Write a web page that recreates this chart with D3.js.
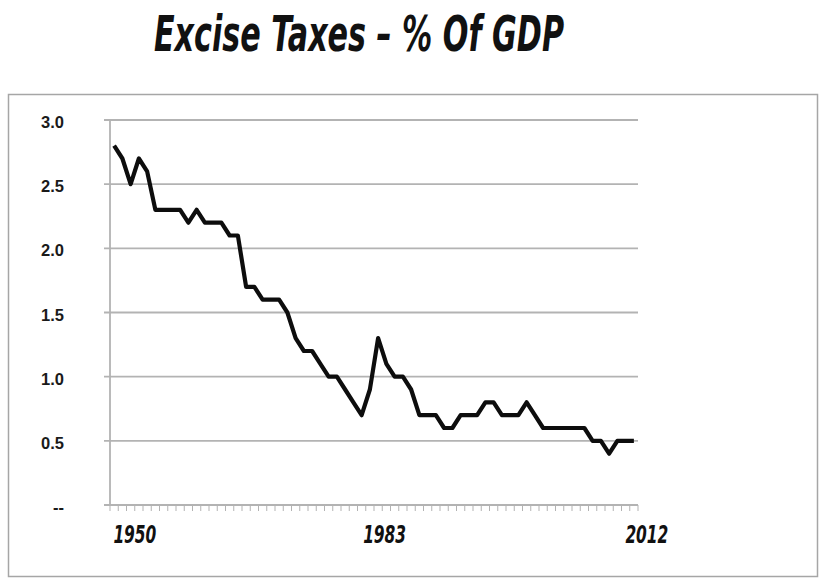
<!DOCTYPE html>
<html>
<head>
<meta charset="utf-8">
<script src="https://cdn.jsdelivr.net/npm/d3@7"></script>
<style>
  html, body { margin: 0; padding: 0; background: #fff; }
  svg { display: block; }
</style>
</head>
<body>
<svg id="chart" width="823" height="583"></svg>
<script>
// ---- data ----
const years = [1949,1950,1951,1952,1953,1954,1955,1956,1957,1958,1959,1960,1961,1962,1963,1964,
  1965,1966,1967,1968,1969,1970,1971,1972,1973,1974,1975,1976,1977,1978,1979,1980,
  1981,1982,1983,1984,1985,1986,1987,1988,1989,1990,1991,1992,1993,1994,1995,1996,
  1997,1998,1999,2000,2001,2002,2003,2004,2005,2006,2007,2008,2009,2010,2011,2012];
const exciseShare = [2.8,2.7,2.5,2.7,2.6,2.3,2.3,2.3,2.3,2.2,2.3,2.2,2.2,2.2,2.1,2.1,
  1.7,1.7,1.6,1.6,1.6,1.5,1.3,1.2,1.2,1.1,1.0,1.0,0.9,0.8,0.7,0.9,
  1.3,1.1,1.0,1.0,0.9,0.7,0.7,0.7,0.6,0.6,0.7,0.7,0.7,0.8,0.8,0.7,
  0.7,0.7,0.8,0.7,0.6,0.6,0.6,0.6,0.6,0.6,0.5,0.5,0.4,0.5,0.5,0.5];
const yTicks = [0, 0.5, 1.0, 1.5, 2.0, 2.5, 3.0];
const yTickLabels = ["--", "0.5", "1.0", "1.5", "2.0", "2.5", "3.0"];
const xLabelYears = [1950, 1983, 2012];
const titleText = "Excise Taxes \u2013 % Of GDP";

// ---- layout ----
const svg = d3.select("#chart");
const plot = { left: 110, right: 638, top: 120, bottom: 505 };
const xLabelShift = { 1950: 12.5, 1983: -10, 2012: 13 };
const condensed = "'Liberation Sans Narrow', 'DejaVu Sans Condensed', sans-serif";

const x = d3.scaleBand().domain(years).range([plot.left, plot.right]).paddingInner(0).paddingOuter(0);
const y = d3.scaleLinear().domain([0, 3]).range([plot.bottom, plot.top]);
const cx = d => x(d) + x.bandwidth() / 2;

// outer frame
svg.append("rect")
  .attr("x", 8.5).attr("y", 94.5).attr("width", 809).attr("height", 482)
  .attr("fill", "none").attr("stroke", "#a6a6a6").attr("stroke-width", 1.5);

// title
svg.append("text")
  .attr("x", 154).attr("y", 51)
  .attr("textLength", 410).attr("lengthAdjust", "spacingAndGlyphs")
  .style("font-family", condensed)
  .style("font-style", "italic").style("font-weight", "bold")
  .style("font-size", "49px").attr("fill", "#111")
  .text(titleText);

// gridlines
svg.append("g").selectAll("line")
  .data(yTicks.filter(v => v > 0))
  .join("line")
  .attr("x1", plot.left - 6).attr("x2", plot.right)
  .attr("y1", d => y(d)).attr("y2", d => y(d))
  .attr("stroke", "#b3b3b3").attr("stroke-width", 1.8);

// y axis line
svg.append("line")
  .attr("x1", plot.left).attr("x2", plot.left)
  .attr("y1", plot.top).attr("y2", plot.bottom)
  .attr("stroke", "#b3b3b3").attr("stroke-width", 1.8);

// x axis line with category ticks
const gx = svg.append("g").attr("transform", `translate(0,${plot.bottom})`);
gx.append("line")
  .attr("x1", plot.left - 6).attr("x2", plot.right)
  .attr("y1", 0).attr("y2", 0)
  .attr("stroke", "#b3b3b3").attr("stroke-width", 1.8);
const boundaries = years.map(d => x(d)).concat([plot.right]);
gx.selectAll("line.tk").data(boundaries).join("line").attr("class", "tk")
  .attr("x1", d => d).attr("x2", d => d)
  .attr("y1", 0).attr("y2", 6)
  .attr("stroke", "#b3b3b3").attr("stroke-width", 1);

// y tick labels
svg.append("g").selectAll("text")
  .data(yTicks)
  .join("text")
  .attr("x", 64)
  .attr("y", d => y(d) + 2)
  .attr("text-anchor", "end")
  .attr("dominant-baseline", "central")
  .style("font-family", "'Liberation Sans', Arial, sans-serif")
  .style("font-size", "16.5px").style("font-weight", "600").attr("fill", "#1a1a1a")
  .text((d, i) => yTickLabels[i]);

// x labels
svg.append("g").selectAll("text")
  .data(xLabelYears)
  .join("text")
  .attr("x", d => cx(d) + xLabelShift[d] - 21.5)
  .attr("y", 543)
  .attr("textLength", 43).attr("lengthAdjust", "spacingAndGlyphs")
  .style("font-family", condensed)
  .style("font-style", "italic").style("font-weight", "bold")
  .style("font-size", "25px").attr("fill", "#111")
  .text(d => String(d));

// line
const line = d3.line()
  .x((d, i) => cx(years[i]))
  .y(d => y(d));
svg.append("path")
  .datum(exciseShare)
  .attr("d", line)
  .attr("fill", "none")
  .attr("stroke", "#0d0d0d")
  .attr("stroke-width", 4.2)
  .attr("stroke-linejoin", "round")
  .attr("stroke-linecap", "butt");
</script>
</body>
</html>
